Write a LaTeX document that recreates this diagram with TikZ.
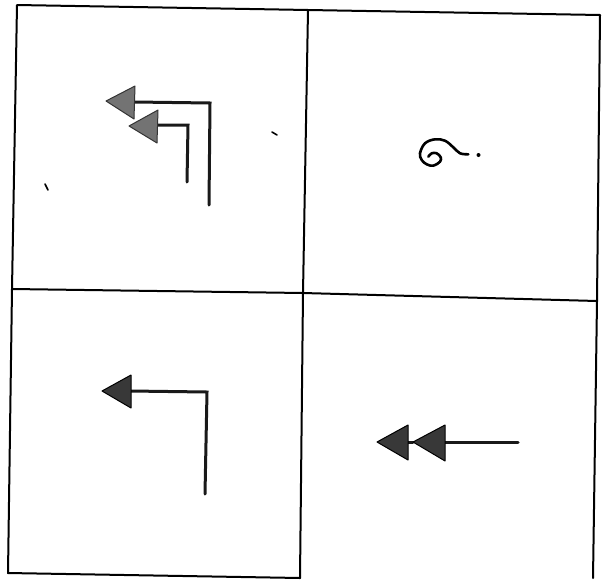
\documentclass[tikz,border=0pt]{standalone}
\begin{document}
\begin{tikzpicture}[x=1pt,y=-1pt,
  gridline/.style={line width=2pt,black,line cap=round,line join=round},
  shaft/.style={line width=3pt,black!90,line cap=round,line join=miter},
  headlight/.style={fill=black!55,draw=black!80,line width=1pt,line join=round},
  headdark/.style={fill=black!78,draw=black,line width=1pt,line join=round},
  squig/.style={line width=2.6pt,black,line cap=round,line join=round},
  speck/.style={line width=1.6pt,black,line cap=round}]
\useasboundingbox (0,0) rectangle (607,581);
% grid corners
\coordinate (tl) at (17,5);
\coordinate (tm) at (308,10);
\coordinate (tr) at (600,15);
\coordinate (ml) at (12,289);
\coordinate (mm) at (303,293);
\coordinate (mr) at (597,301);
\coordinate (bl) at (8,573);
\coordinate (bm) at (300,578);
\coordinate (br) at (593,578);
\draw[gridline] (bl) -- (ml) -- (tl) -- (tm) -- (tr) -- (mr) -- (br);
\draw[gridline] (tm) -- (mm) -- (bm);
\draw[gridline] (ml) -- (mm) -- (mr);
\draw[gridline] (bl) -- (bm);
% top-left: two bent arrows
\coordinate (a1s) at (209,205);
\coordinate (a1c) at (210,103);
\coordinate (a1b) at (134,102);
\coordinate (a1t) at (106,101);
\coordinate (a1u) at (135,86);
\coordinate (a1d) at (134,119);
\draw[shaft] (a1s) -- (a1c) -- (a1b);
\filldraw[headlight] (a1t) -- (a1u) -- (a1d) -- cycle;
\coordinate (a2s) at (187,182);
\coordinate (a2c) at (188,125);
\coordinate (a2b) at (157,125);
\coordinate (a2t) at (129,126);
\coordinate (a2u) at (158,110);
\coordinate (a2d) at (157,143);
\draw[shaft] (a2s) -- (a2c) -- (a2b);
\filldraw[headlight] (a2t) -- (a2u) -- (a2d) -- cycle;
% specks
\coordinate (sp1a) at (45,184);
\coordinate (sp1b) at (48,190);
\draw[speck] (sp1a) -- (sp1b);
\coordinate (sp2a) at (272,132);
\coordinate (sp2b) at (277,135);
\draw[speck] (sp2a) -- (sp2b);
% top-right: squiggle and dot
\draw[squig] plot[smooth,tension=0.6] coordinates {
 (428.3,156.7) (431.7,153.3) (436.7,153.3) (440.7,157.3) (440,161.7)
 (433.3,165.7) (426.7,164.3) (421.7,160) (420,153.3) (425,143.3)
 (435,139.3) (445,140.7) (453.3,147.3) (460,153.3) (468.3,154.3)};
\coordinate (dot) at (478.5,155);
\fill (dot) circle (2pt);
% bottom-left: bent arrow
\coordinate (a3s) at (205,494);
\coordinate (a3c) at (207,392);
\coordinate (a3b) at (130,391);
\coordinate (a3t) at (102,391);
\coordinate (a3u) at (131,375);
\coordinate (a3d) at (131,408);
\draw[shaft] (a3s) -- (a3c) -- (a3b);
\filldraw[headdark] (a3t) -- (a3u) -- (a3d) -- cycle;
% bottom-right: double-headed arrow
\coordinate (a4s) at (518,442);
\coordinate (a4b) at (444,442);
\coordinate (a4t) at (413,442);
\coordinate (a4u) at (445,425);
\coordinate (a4d) at (445,461);
\coordinate (a5t) at (377,442);
\coordinate (a5u) at (408,425);
\coordinate (a5d) at (408,460);
\draw[shaft] (a4s) -- (a4b);
\draw[shaft] (a4t) -- (a5u |- a4t);
\filldraw[headdark] (a4t) -- (a4u) -- (a4d) -- cycle;
\filldraw[headdark] (a5t) -- (a5u) -- (a5d) -- cycle;
\end{tikzpicture}
\end{document}
